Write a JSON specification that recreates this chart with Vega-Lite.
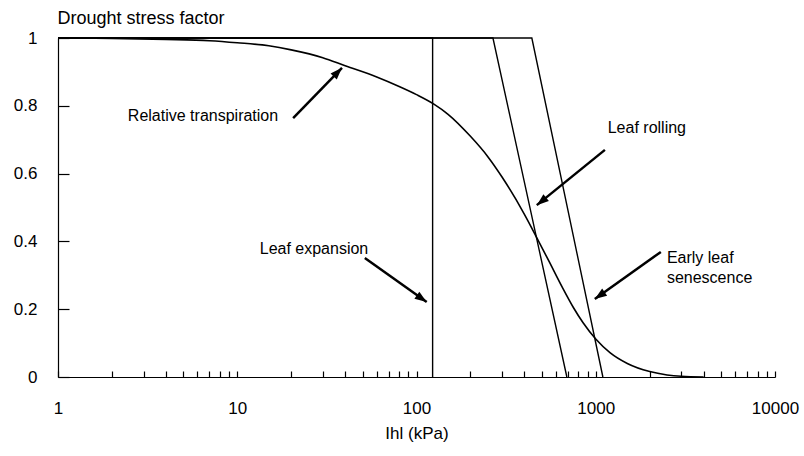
{
  "$schema": "https://vega.github.io/schema/vega-lite/v6.json",
  "width": 717,
  "height": 339,
  "autosize": {"type": "none"},
  "padding": {"left": 58, "top": 38, "right": 29, "bottom": 79},
  "background": "white",
  "config": {
    "view": {"stroke": null},
    "font": "Liberation Sans",
    "axis": {"domainColor": "black", "tickColor": "black", "labelColor": "black", "titleColor": "black", "grid": false, "titleFontWeight": "normal", "domainWidth": 1.2, "tickWidth": 1.2}
  },
  "datasets": {
    "curve": [
      {"i": 0, "x": 1, "y": 1.0},
      {"i": 1, "x": 2, "y": 0.999},
      {"i": 2, "x": 4, "y": 0.996},
      {"i": 3, "x": 7, "y": 0.992},
      {"i": 4, "x": 10, "y": 0.986},
      {"i": 5, "x": 15, "y": 0.977},
      {"i": 6, "x": 20, "y": 0.965},
      {"i": 7, "x": 30, "y": 0.942},
      {"i": 8, "x": 40, "y": 0.918},
      {"i": 9, "x": 60, "y": 0.885},
      {"i": 10, "x": 80, "y": 0.857},
      {"i": 11, "x": 100, "y": 0.833},
      {"i": 12, "x": 125, "y": 0.805},
      {"i": 13, "x": 150, "y": 0.775},
      {"i": 14, "x": 200, "y": 0.71},
      {"i": 15, "x": 250, "y": 0.65},
      {"i": 16, "x": 300, "y": 0.59},
      {"i": 17, "x": 400, "y": 0.48},
      {"i": 18, "x": 470, "y": 0.41},
      {"i": 19, "x": 550, "y": 0.34},
      {"i": 20, "x": 650, "y": 0.265},
      {"i": 21, "x": 750, "y": 0.205},
      {"i": 22, "x": 850, "y": 0.16},
      {"i": 23, "x": 1000, "y": 0.112},
      {"i": 24, "x": 1200, "y": 0.072},
      {"i": 25, "x": 1500, "y": 0.04},
      {"i": 26, "x": 2000, "y": 0.016},
      {"i": 27, "x": 2500, "y": 0.006},
      {"i": 28, "x": 3000, "y": 0.002},
      {"i": 29, "x": 4000, "y": 0}
    ],
    "steps": [
      {"series": "Leaf expansion", "i": 0, "x": 1, "y": 1},
      {"series": "Leaf expansion", "i": 1, "x": 123, "y": 1},
      {"series": "Leaf expansion", "i": 2, "x": 123, "y": 0},
      {"series": "Leaf rolling", "i": 0, "x": 1, "y": 1},
      {"series": "Leaf rolling", "i": 1, "x": 267, "y": 1},
      {"series": "Leaf rolling", "i": 2, "x": 690, "y": 0},
      {"series": "Early leaf senescence", "i": 0, "x": 1, "y": 1},
      {"series": "Early leaf senescence", "i": 1, "x": 440, "y": 1},
      {"series": "Early leaf senescence", "i": 2, "x": 1096, "y": 0}
    ],
    "arrows": [
      {"arrow": "rt", "end": "tail", "x": 20.5, "y": 0.764},
      {"arrow": "rt", "end": "head", "x": 38.4, "y": 0.912},
      {"arrow": "lr", "end": "tail", "x": 1125, "y": 0.67},
      {"arrow": "lr", "end": "head", "x": 469, "y": 0.507},
      {"arrow": "le", "end": "tail", "x": 51.5, "y": 0.351},
      {"arrow": "le", "end": "head", "x": 114, "y": 0.221},
      {"arrow": "es", "end": "tail", "x": 2307, "y": 0.369},
      {"arrow": "es", "end": "head", "x": 988, "y": 0.23}
    ],
    "notes": [
      {"label": "Relative transpiration", "x": 6.44, "y": 0.77},
      {"label": "Leaf rolling", "x": 1928, "y": 0.735},
      {"label": "Leaf expansion", "x": 26.8, "y": 0.378}
    ],
    "notes2": [
      {"label": "Early leaf\nsenescence", "x": 2494, "y": 0.351}
    ]
  },
  "encoding": {
    "x": {"field": "x", "type": "quantitative", "scale": {"type": "log", "domain": [1, 10000], "nice": false}},
    "y": {"field": "y", "type": "quantitative", "scale": {"domain": [0, 1], "nice": false, "zero": false}}
  },
  "layer": [
    {
      "data": {"name": "curve"},
      "mark": {"type": "line", "color": "black", "strokeWidth": 1.6, "interpolate": "monotone"},
      "encoding": {
        "x": {"field": "x", "type": "quantitative", "scale": {"type": "log", "domain": [1, 10000], "nice": false},
          "axis": {"values": [1,2,3,4,5,6,7,8,9,10,20,30,40,50,60,70,80,90,100,200,300,400,500,600,700,800,900,1000,2000,3000,4000,5000,6000,7000,8000,9000,10000],
            "format": "d", "labelExpr": "(datum.value == 1 || datum.value == 10 || datum.value == 100 || datum.value == 1000 || datum.value == 10000) ? datum.label : ''",
            "tickSize": -6, "labelPadding": 29, "labelFontSize": 17, "labelFlush": false, "labelBound": false, "labelOverlap": false,
            "title": "Ihl (kPa)", "titleFontSize": 17, "titleY": 56, "titleBaseline": "middle"}},
        "y": {"field": "y", "type": "quantitative", "scale": {"domain": [0, 1], "nice": false, "zero": false},
          "axis": {"values": [0, 0.2, 0.4, 0.6, 0.8, 1], "format": "~g", "tickSize": -11, "labelPadding": 32, "labelFontSize": 17,
            "title": "Drought stress factor", "titleFontSize": 18, "titleAngle": 0, "titleX": -1, "titleY": -20, "titleAlign": "left", "titleBaseline": "middle"}},
        "order": {"field": "i"}
      }
    },
    {
      "data": {"name": "steps"},
      "mark": {"type": "line", "color": "black", "strokeWidth": 1.4},
      "encoding": {"detail": {"field": "series"}, "order": {"field": "i"}}
    },
    {
      "data": {"name": "arrows"},
      "mark": {"type": "line", "color": "black", "strokeWidth": 2.5},
      "encoding": {"detail": {"field": "arrow"}}
    },
    {
      "data": {"name": "arrows"},
      "transform": [{"filter": "datum.arrow == 'rt' && datum.end == 'head'"}],
      "mark": {"type": "point", "shape": "M0,0L0.36,1L-0.36,1Z", "filled": true, "color": "black", "opacity": 1, "size": 576, "angle": 44}
    },
    {
      "data": {"name": "arrows"},
      "transform": [{"filter": "datum.arrow == 'lr' && datum.end == 'head'"}],
      "mark": {"type": "point", "shape": "M0,0L0.36,1L-0.36,1Z", "filled": true, "color": "black", "opacity": 1, "size": 576, "angle": 231}
    },
    {
      "data": {"name": "arrows"},
      "transform": [{"filter": "datum.arrow == 'le' && datum.end == 'head'"}],
      "mark": {"type": "point", "shape": "M0,0L0.36,1L-0.36,1Z", "filled": true, "color": "black", "opacity": 1, "size": 576, "angle": 125}
    },
    {
      "data": {"name": "arrows"},
      "transform": [{"filter": "datum.arrow == 'es' && datum.end == 'head'"}],
      "mark": {"type": "point", "shape": "M0,0L0.36,1L-0.36,1Z", "filled": true, "color": "black", "opacity": 1, "size": 576, "angle": 235}
    },
    {
      "data": {"name": "notes"},
      "mark": {"type": "text", "fontSize": 16, "align": "center", "baseline": "middle", "color": "black"},
      "encoding": {"text": {"field": "label"}}
    },
    {
      "data": {"name": "notes2"},
      "mark": {"type": "text", "fontSize": 16, "align": "left", "baseline": "middle", "color": "black", "lineBreak": "\n", "lineHeight": 20},
      "encoding": {"text": {"field": "label"}}
    }
  ]
}
